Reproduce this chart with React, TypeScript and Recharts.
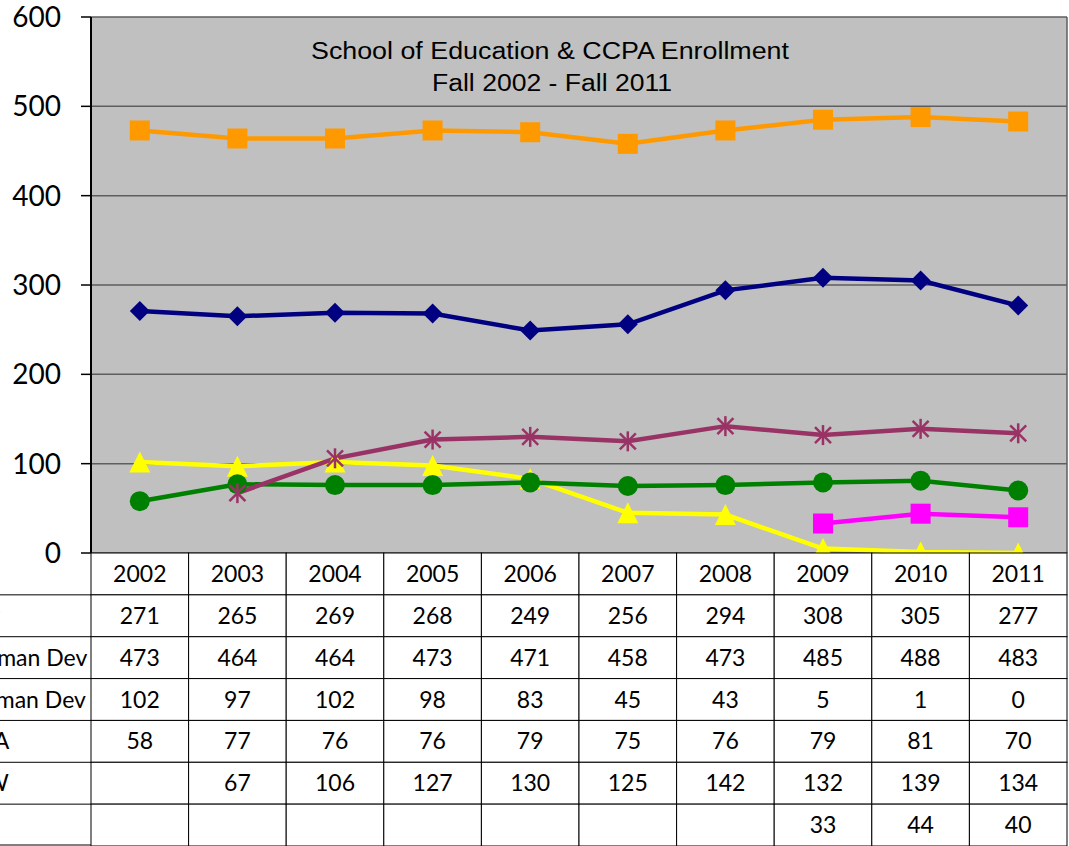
import { LineChart, Line, XAxis, YAxis, CartesianGrid } from "recharts"

const years = ["2002", "2003", "2004", "2005", "2006", "2007", "2008", "2009", "2010", "2011"]
const seriesNames = ["TEP", "Bachelor Human Dev", "Master's Human Dev", "CCPA", "MSW", "EdS"]
const tep = [271, 265, 269, 268, 249, 256, 294, 308, 305, 277]
const baHumanDev = [473, 464, 464, 473, 471, 458, 473, 485, 488, 483]
const maHumanDev = [102, 97, 102, 98, 83, 45, 43, 5, 1, 0]
const ccpa = [58, 77, 76, 76, 79, 75, 76, 79, 81, 70]
const msw = [null, 67, 106, 127, 130, 125, 142, 132, 139, 134]
const eds = [null, null, null, null, null, null, null, 33, 44, 40]
const yTicks = [0, 100, 200, 300, 400, 500, 600]
const titleLines = ["School of Education & CCPA Enrollment", "Fall 2002 - Fall 2011"]

const keys = ["s0", "s1", "s2", "s3", "s4", "s5"]
const allSeries = [tep, baHumanDev, maHumanDev, ccpa, msw, eds]
const colors = ["#000080", "#FF9900", "#FFFF00", "#008000", "#993366", "#FF00FF"]

const data = years.map((year, i) => {
  const row: any = { year }
  allSeries.forEach((s, k) => {
    row[keys[k]] = s[i]
  })
  return row
})

const W = 1069
const H = 846
const PLOT_TOP = 17
const PLOT_LEFT = 91
const PLOT_RIGHT = 1067
const PLOT_BOTTOM = 553
const COL_W = (PLOT_RIGHT - PLOT_LEFT) / years.length
const ROW_H = (H - PLOT_BOTTOM) / (seriesNames.length + 1)
// the label column of the table runs off the left edge, labels centred in it
const LABEL_CENTER = -20
const tableFont = "Lato, 'Noto Sans', sans-serif"

const Diamond = ({ cx, cy, fill }: any) => {
  if (cx == null || cy == null) return null
  const r = 10
  return <path d={`M${cx},${cy - r}L${cx + r},${cy}L${cx},${cy + r}L${cx - r},${cy}Z`} fill={fill} />
}
const Square = ({ cx, cy, fill }: any) => {
  if (cx == null || cy == null) return null
  return <rect x={cx - 10} y={cy - 10} width={20} height={20} fill={fill} />
}
const Triangle = ({ cx, cy, fill }: any) => {
  if (cx == null || cy == null) return null
  return <path d={`M${cx},${cy - 10.5}L${cx + 10.5},${cy + 10.5}L${cx - 10.5},${cy + 10.5}Z`} fill={fill} />
}
const Circle = ({ cx, cy, fill }: any) => {
  if (cx == null || cy == null) return null
  return <circle cx={cx} cy={cy} r={10} fill={fill} />
}
const Star = ({ cx, cy, fill }: any) => {
  if (cx == null || cy == null) return null
  const r = 10
  const d = 8
  return (
    <g stroke={fill} strokeWidth={2.5}>
      <line x1={cx} y1={cy - r} x2={cx} y2={cy + r} />
      <line x1={cx - d} y1={cy - d} x2={cx + d} y2={cy + d} />
      <line x1={cx - d} y1={cy + d} x2={cx + d} y2={cy - d} />
    </g>
  )
}
const markers = [Diamond, Square, Triangle, Circle, Star, Square]

// data table under the plot, one column per x tick
const TableColumn = (props: any) => {
  const { x, payload, index } = props
  const top = PLOT_BOTTOM
  const left = x - COL_W / 2
  const rows = [payload.value, ...allSeries.map((s) => s[index])]
  return (
    <g>
      {index === 0 && (
        <g>
          <defs>
            <clipPath id="labelClip">
              <rect x={0} y={top} width={PLOT_LEFT} height={H - top} />
            </clipPath>
          </defs>
          {seriesNames.map((name, k) => (
            <g key={name}>
              <line x1={0} x2={PLOT_LEFT} y1={top + ROW_H * (k + 1)} y2={top + ROW_H * (k + 1)} stroke="#000" />
              <text
                x={LABEL_CENTER}
                y={top + ROW_H * (k + 1.5)}
                dy="0.35em"
                textAnchor="middle"
                fontSize={23}
                fontFamily={tableFont}
                fill="#000"
                clipPath="url(#labelClip)"
              >
                {name}
              </text>
            </g>
          ))}
          <line x1={0} x2={PLOT_LEFT} y1={H - 1} y2={H - 1} stroke="#000" />
        </g>
      )}
      {rows.map((v, r) => (
        <g key={r}>
          <rect x={left} y={top + ROW_H * r} width={COL_W} height={ROW_H} fill="#fff" stroke="#000" strokeWidth={1} />
          <text
            x={x}
            y={top + ROW_H * (r + 0.5)}
            dy="0.35em"
            textAnchor="middle"
            fontSize={23}
            fontFamily={tableFont}
            fill="#000"
          >
            {v == null ? "" : v}
          </text>
        </g>
      ))}
    </g>
  )
}

export default function App() {
  return (
    <div style={{ position: "absolute", left: 0, top: 0, width: W, height: H, overflow: "hidden", background: "#fff" }}>
      <LineChart width={W} height={H} data={data} margin={{ top: PLOT_TOP, right: W - PLOT_RIGHT, left: 0, bottom: 0 }}>
        <CartesianGrid
          fill="#C0C0C0"
          stroke="#5e5e5e"
          strokeWidth={1.5}
          vertical={true}
          verticalPoints={[PLOT_RIGHT]}
        />
        <XAxis
          dataKey="year"
          height={H - PLOT_BOTTOM}
          padding={{ left: COL_W / 2, right: COL_W / 2 }}
          axisLine={false}
          tickLine={false}
          tickSize={0}
          tickMargin={0}
          interval={0}
          tick={<TableColumn />}
        />
        <YAxis
          width={PLOT_LEFT}
          domain={[0, 600]}
          ticks={yTicks}
          interval={0}
          tickSize={10}
          tickMargin={20}
          axisLine={{ stroke: "#000", strokeWidth: 2 }}
          tickLine={{ stroke: "#000", strokeWidth: 1.5 }}
          tick={{ fontSize: 28, fontFamily: "Lato, sans-serif", fill: "#000" }}
        />
        {keys.map((k, i) => {
          const M = markers[i]
          return (
            <Line
              key={k}
              dataKey={k}
              name={seriesNames[i]}
              stroke={colors[i]}
              strokeWidth={4.5}
              dot={<M fill={colors[i]} />}
              activeDot={false}
              isAnimationActive={false}
            />
          )
        })}
      </LineChart>
      <svg width={W} height={120} style={{ position: "absolute", left: 0, top: 0, pointerEvents: "none" }}>
        <text
          x={550}
          y={59}
          textAnchor="middle"
          fontSize={23}
          fontFamily="'Liberation Sans', Arial, sans-serif"
          textLength={478}
          lengthAdjust="spacingAndGlyphs"
          fill="#000"
        >
          {titleLines[0]}
        </text>
        <text
          x={552}
          y={91}
          textAnchor="middle"
          fontSize={23}
          fontFamily="'Liberation Sans', Arial, sans-serif"
          textLength={240}
          lengthAdjust="spacingAndGlyphs"
          fill="#000"
        >
          {titleLines[1]}
        </text>
      </svg>
    </div>
  )
}
